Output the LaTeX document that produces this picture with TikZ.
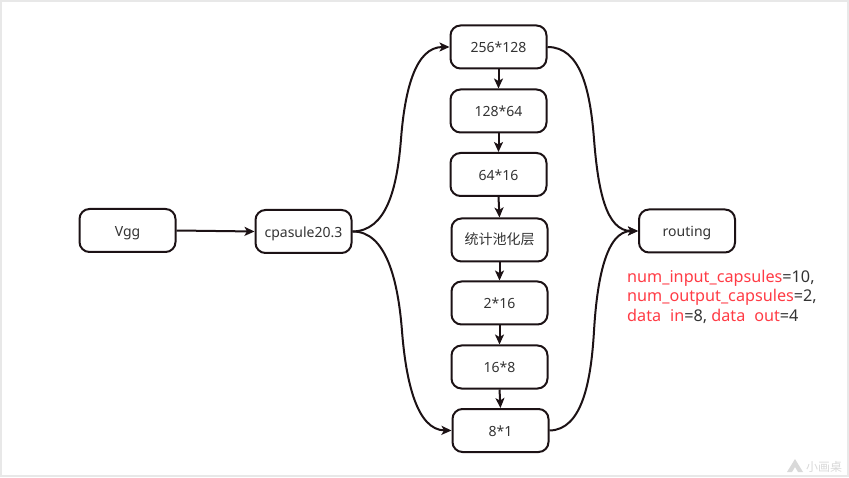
\documentclass[tikz,border=0pt]{standalone}
\usepackage{fontspec}
\setmainfont{Noto Sans}
\newfontfamily\cjk{Noto Sans CJK SC}
\usetikzlibrary{arrows.meta,calc}
\definecolor{linecol}{HTML}{1C1215}
\definecolor{textcol}{HTML}{333333}
\definecolor{notecol}{HTML}{FF3B45}
\definecolor{framecol}{HTML}{E8E8E8}
\definecolor{markcol}{HTML}{D9D9D9}
\tikzset{
    layer/.style={draw=linecol,line width=2pt,rounded corners=10pt,minimum width=96pt,minimum height=43pt,
      inner sep=0pt,text height=15pt,text depth=3pt,text=textcol,font=\fontsize{14}{17}\selectfont},
    flow/.style={draw=linecol,line width=2pt,-{Stealth[length=10pt,width=9pt,inset=2.5pt]}},
  }
\newcommand{\red}[1]{\textcolor{notecol}{#1}}
\begin{document}
\begin{tikzpicture}[x=1pt,y=-1pt]
	\useasboundingbox (0,0) rectangle (849,478);
	\draw[framecol,line width=2pt] (1,1) rectangle (848,476);

	%noeuds
	\node[layer] (vgg) at (127.5,230.5) {Vgg};
	\node[layer] (caps) at (303.5,231.5) {cpasule20.3};
	\node[layer] (a) at (498.5,47) {256*128};
	\node[layer] (b) at (498.5,111) {128*64};
	\node[layer] (c) at (498.5,174.5) {64*16};
	\node[layer,text height=13pt] (d) at (499.5,240) {\cjk 统计池化层};
	\node[layer] (e) at (499.5,303) {2*16};
	\node[layer] (f) at (499.5,367) {16*8};
	\node[layer] (g) at (500.5,430.5) {8*1};
	\node[layer] (routing) at (687,231) {routing};

	%note
	\node[anchor=north west,inner sep=0pt,align=left,text=textcol,font=\fontsize{16.2}{19.5}\selectfont] (note) at (627,269.5)
	  {\red{num\_input\_capsules}=10,\\ \red{num\_output\_capsules}=2,\\ \red{data\hspace{0.55em}in}=8, \red{data\hspace{0.55em}out}=4};

	%fleches
	\draw[flow] (vgg.east) -- (caps.west);
	\draw[flow] (a.south) -- (b.north);
	\draw[flow] (b.south) -- (c.north);
	\draw[flow] (c.south) -- (d.north);
	\draw[flow] (d.south) -- (e.north);
	\draw[flow] (e.south) -- (f.north);
	\draw[flow] (f.south) -- (g.north);

	%courbes
	\coordinate (upin) at (401,139);
	\coordinate (lowin) at (402,331);
	\coordinate (upout) at (594,139);
	\coordinate (lowout) at (594,331);
	\draw[flow] (caps.east) .. controls (386,231) and (397,190) .. (upin) .. controls (405,88) and (416,47) .. (a.west);
	\draw[flow] (caps.east) .. controls (386,231) and (398,280) .. (lowin) .. controls (406,382) and (417,430) .. (g.west);
	\draw[flow] (a.east) .. controls (580,47) and (590,88) .. (upout) .. controls (598,190) and (606,231) .. (routing.west);
	\draw[flow] (g.east) .. controls (582,430) and (591,382) .. (lowout) .. controls (597,280) and (606,231) .. (routing.west);

	%logo
	\fill[markcol] (787,472) -- (795,459) -- (803,472) -- (798,472) -- (795,467) -- (792,472) -- cycle;
	\node[anchor=west,inner sep=0pt,text=markcol,font=\fontsize{12}{14}\selectfont\cjk] (mark) at (806,466.5) {小画桌};
\end{tikzpicture}
\end{document}
